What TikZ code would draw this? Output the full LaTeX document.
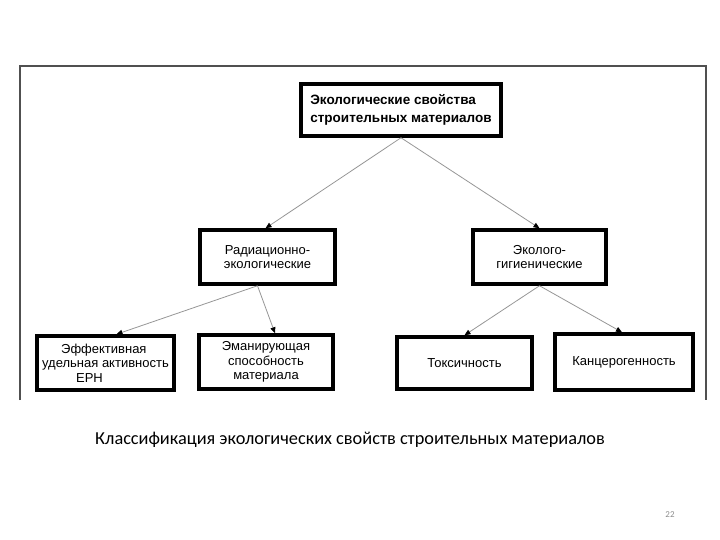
\documentclass[tikz,border=0pt]{standalone}
\usepackage{fontspec}
\setmainfont{Liberation Sans}
\newfontfamily\captionfont{Carlito}
\usepackage{xcolor}
\definecolor{framegray}{RGB}{80,80,80}
\definecolor{linkgray}{RGB}{150,150,150}
\definecolor{pagegray}{RGB}{140,140,140}
\usetikzlibrary{arrows.meta, positioning}

\begin{document}
\begin{tikzpicture}[
    x=1pt, y=-1pt,
    box/.style={rectangle, draw=black, line width=3.5pt, fill=white,
                inner sep=2pt, align=center,
                font=\fontsize{13}{14.5}\selectfont},
    link/.style={-{Triangle[length=6pt,width=5pt,color=black]}, color=linkgray, line width=0.8pt},
    frame/.style={draw=framegray, line width=1.5pt}
]
    \useasboundingbox (0,0) rectangle (720,540);
    % outer frame (open at the bottom)
    \draw[frame] (20,400) -- (20,66) -- (706,66) -- (706,400);

    % boxes
    \node[box, minimum width=200pt, minimum height=52pt, align=left,
          font=\fontsize{13.5}{18}\selectfont\bfseries] (eco)  at (401,110)
          {Экологические свойства\\строительных материалов};
    \node[box, minimum width=135pt, minimum height=54pt] (rad)  at (267.5,257)
          {Радиационно-\\экологические};
    \node[box, minimum width=133pt, minimum height=54pt] (hyg)  at (539.5,257)
          {Эколого-\\гигиенические};
    \node[box, minimum width=137pt, minimum height=54pt, align=left] (eff)  at (105.5,363)
          {\hspace{19pt}Эффективная\\удельная активность\\\hspace{34pt}ЕРН};
    \node[box, minimum width=134pt, minimum height=54pt] (eman) at (266,362)
          {Эманирующая\\способность\\материала};
    \node[box, minimum width=135pt, minimum height=52pt] (tox)  at (464.5,363)
          {Токсичность};
    \node[box, minimum width=138pt, minimum height=56pt] (canc) at (624,362)
          {Канцерогенность};

    % links
    \draw[link] (eco.south) -- ([xshift=-2pt]rad.north);
    \draw[link] (eco.south) -- (hyg.north);
    \draw[link] ([xshift=-10pt]rad.south) -- ([xshift=11pt]eff.north);
    \draw[link] ([xshift=-10pt]rad.south) -- ([xshift=9pt]eman.north);
    \draw[link] (hyg.south) -- (tox.north);
    \draw[link] (hyg.south) -- ([xshift=-2pt]canc.north);

    % caption and page number
    \node[font=\captionfont\fontsize{18.3}{20}\selectfont] (cap) at (350,440)
          {Классификация экологических свойств строительных материалов};
    \node[font=\captionfont\fontsize{9}{10}\selectfont, text=pagegray] (page) at (670,515) {22};
\end{tikzpicture}
\end{document}
